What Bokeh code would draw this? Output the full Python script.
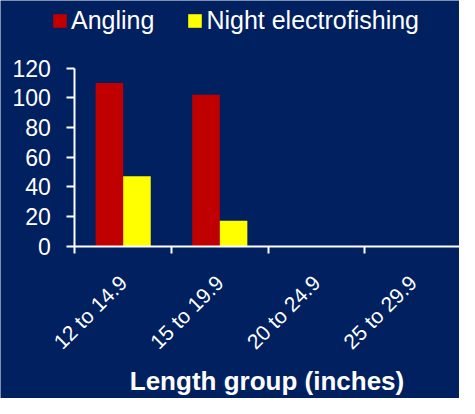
import math
from bokeh.plotting import figure
from bokeh.models import Range1d, FixedTicker, Legend, LegendItem
from bokeh.embed import file_html
from bokeh.resources import INLINE

categories = ["12 to 14.9", "15 to 19.9", "20 to 24.9", "25 to 29.9"]
angling = [110, 102, 0, 0]
night = [47, 17, 0, 0]
y_ticks = [0, 20, 40, 60, 80, 100, 120]

BG = "#002060"
FONT = "Liberation Sans"

p = figure(width=459, height=398, output_backend="svg", toolbar_location=None,
           x_range=Range1d(-0.770, 3.981), y_range=Range1d(-102.8, 165.6),
           min_border_left=0, min_border_right=0, min_border_top=0, min_border_bottom=0,
           background_fill_color=BG, border_fill_color=BG)
p.outline_line_color = None
p.grid.visible = False

centers = [i + 0.5 for i in range(len(categories))]
bw = 0.285
r1 = p.vbar(x=[c - bw / 2 for c in centers], top=angling, width=bw,
            fill_color="#C00000", line_color=None)
r2 = p.vbar(x=[c + bw / 2 for c in centers], top=night, width=bw,
            fill_color="#FFFF00", line_color=None)

# y axis
ya = p.yaxis[0]
ya.fixed_location = 0
ya.ticker = FixedTicker(ticks=y_ticks)
ya.bounds = (0, 120)
ya.axis_line_color = "white"
ya.axis_line_width = 2
ya.major_tick_line_color = "white"
ya.major_tick_line_width = 2
ya.major_tick_out = 8
ya.major_tick_in = 0
ya.minor_tick_line_color = None
ya.major_label_text_color = "white"
ya.major_label_text_font = FONT
ya.major_label_text_font_size = "23px"
ya.major_label_standoff = 16

# x axis
xa = p.xaxis[0]
xa.fixed_location = 0
xa.ticker = FixedTicker(ticks=centers, minor_ticks=[0, 1, 2, 3, 4])
xa.bounds = (0, 4)
xa.major_label_overrides = {c: lab for c, lab in zip(centers, categories)}
xa.major_label_orientation = math.pi / 4
xa.axis_line_color = "white"
xa.axis_line_width = 2
xa.major_tick_line_color = None
xa.minor_tick_line_color = "white"
xa.minor_tick_line_width = 2
xa.minor_tick_out = 7
xa.minor_tick_in = 0
xa.major_label_text_color = "white"
xa.major_label_text_font = FONT
xa.major_label_text_font_size = "21px"
xa.major_label_standoff = 26
xa.axis_label = "Length group (inches)"
xa.axis_label_text_color = "white"
xa.axis_label_text_font = FONT
xa.axis_label_text_font_style = "bold"
xa.axis_label_text_font_size = "26px"
xa.axis_label_standoff = 1

legend = Legend(items=[LegendItem(label="Angling", renderers=[r1]),
                       LegendItem(label="Night electrofishing", renderers=[r2])],
                orientation="horizontal", location=(51, 363),
                glyph_width=17, glyph_height=17, label_standoff=3, spacing=32,
                padding=0, margin=0,
                label_text_color="white", label_text_font=FONT,
                label_text_font_size="25px",
                background_fill_alpha=0, border_line_color=None)
p.add_layout(legend, "center")

html = file_html(p, INLINE)
html = html.replace("<body>", '<body style="background:%s">' % BG, 1)
open("out.html", "w").write(html)
